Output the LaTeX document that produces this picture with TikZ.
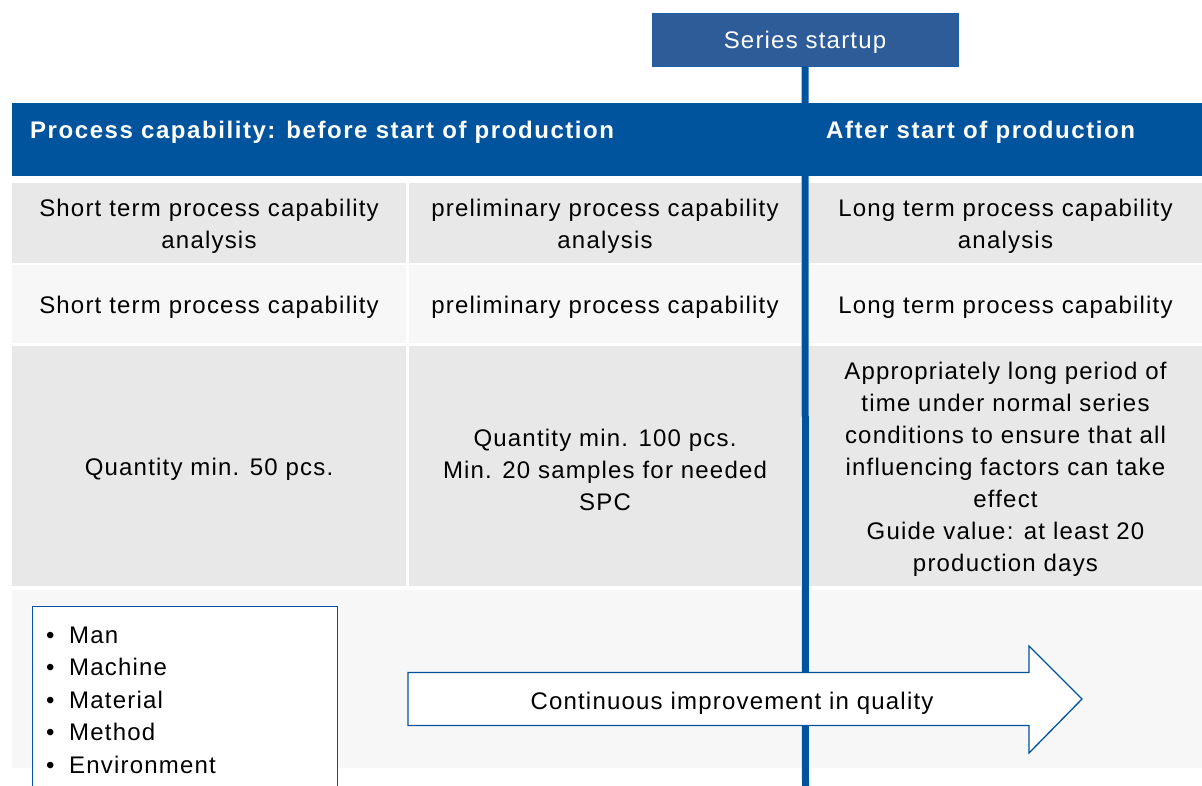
\documentclass[tikz,border=0pt]{standalone}
\usepackage{fontspec}
\setmainfont{Liberation Sans}[LetterSpace=5]
\definecolor{hdrblue}{HTML}{00549D}
\definecolor{startblue}{HTML}{2E5C98}
\definecolor{startborder}{HTML}{1C5EA8}
\definecolor{cellA}{HTML}{E8E8E8}
\definecolor{cellB}{HTML}{F7F7F7}
\newcommand\bul{\makebox[23pt][l]{\textbullet}}
\begin{document}
\begin{tikzpicture}[x=1pt,y=-1pt,
  font=\fontsize{24}{32}\selectfont,
  cellbox/.style={inner sep=0pt},
  darkcell/.style={cellbox, fill=cellA},
  lightcell/.style={cellbox, fill=cellB},
  celltext/.style={inner sep=0pt, align=center, text=black, yshift=-3.5pt},
  hdrtext/.style={anchor=base west, text=white, font=\fontsize{24}{32}\selectfont\bfseries\addfontfeature{LetterSpace=6.5}, inner sep=0pt},
  outlinebox/.style={draw=hdrblue, line width=1.3pt, fill=white}]
\useasboundingbox (0,0) rectangle (1202,785);
\clip (0,0) rectangle (1202,785);

% header band
\node[fill=hdrblue, inner sep=0pt, minimum width=1190pt, minimum height=73pt] (hdr) at (607,139.5) {};
\node[hdrtext] (hdrL) at (30,138) {Process capability: before start of production};
\node[hdrtext] (hdrR) at (826,138) {After start of production};

% row 1
\node[darkcell, minimum width=394pt, minimum height=80pt] (c11) at (209,223) {};
\node[darkcell, minimum width=392pt, minimum height=80pt] (c12) at (605,223) {};
\node[darkcell, minimum width=393pt, minimum height=80pt] (c13) at (1005.5,223) {};
% row 2
\node[lightcell, minimum width=394pt, minimum height=78pt] (c21) at (209,304) {};
\node[lightcell, minimum width=392pt, minimum height=78pt] (c22) at (605,304) {};
\node[lightcell, minimum width=393pt, minimum height=78pt] (c23) at (1005.5,304) {};
% row 3
\node[darkcell, minimum width=394pt, minimum height=240pt] (c31) at (209,466) {};
\node[darkcell, minimum width=392pt, minimum height=240pt] (c32) at (605,466) {};
\node[darkcell, minimum width=393pt, minimum height=240pt] (c33) at (1005.5,466) {};
% row 4
\node[lightcell, minimum width=1190pt, minimum height=178pt] (c4) at (607,678.5) {};

% cell texts
\node[celltext] (t11) at (c11.center) {Short term process capability\\analysis};
\node[celltext] (t12) at (c12.center) {preliminary process capability\\analysis};
\node[celltext] (t13) at (c13.center) {Long term process capability\\analysis};
\node[celltext] (t21) at (c21.center) {Short term process capability};
\node[celltext] (t22) at (c22.center) {preliminary process capability};
\node[celltext] (t23) at (c23.center) {Long term process capability};
\node[celltext] (t31) at (c31.center) {Quantity min. 50 pcs.};
\node[celltext] (t32) at (c32.center) {Quantity min. 100 pcs.\\Min. 20 samples for needed\\SPC};
\node[celltext] (t33) at (c33.center) {Appropriately long period of\\time under normal series\\conditions to ensure that all\\influencing factors can take\\effect\\Guide value: at least 20\\production days};

% series startup and timeline
\node[fill=startblue, draw=startborder, line width=1pt, minimum width=306pt, minimum height=53pt, inner sep=0pt] (start) at (805,39.5) {};
\node[inner sep=0pt, text=white, yshift=-3pt] (starttext) at (start.center) {Series startup};
\coordinate (lineend) at (805.5,795);
\draw[hdrblue, line width=7pt] (start.south) -- (lineend);

% influencing factors box
\node[outlinebox, anchor=north west, minimum width=305pt, minimum height=200pt, inner sep=0pt] (factorsbox) at (32,606) {};
\node[anchor=base west, align=left, inner sep=0pt, font=\fontsize{24}{32.5}\selectfont] (factors) at (46,773)
  {\bul Man\\\bul Machine\\\bul Material\\\bul Method\\\bul Environment};

% improvement arrow
\draw[outlinebox, line join=miter] (408,672.5) -- (1029,672.5) -- (1029,646) -- (1082,699) -- (1029,753) -- (1029,725.5) -- (408,725.5) -- cycle;
\node[inner sep=0pt] (improve) at (732,703) {Continuous improvement in quality};
\end{tikzpicture}
\end{document}
